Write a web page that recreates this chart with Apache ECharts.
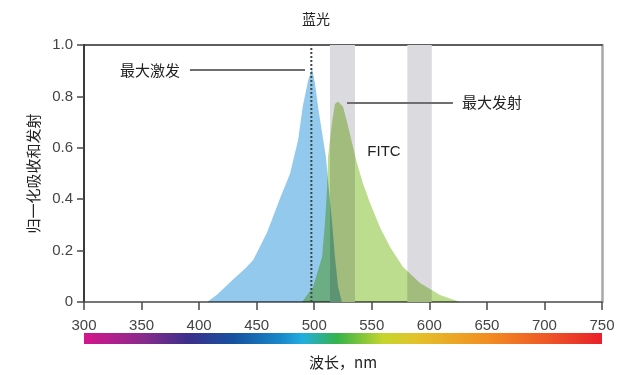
<!DOCTYPE html>
<html>
<head>
<meta charset="utf-8">
<script src="https://cdn.jsdelivr.net/npm/echarts@6/dist/echarts.min.js"></script>
<style>
html,body{margin:0;padding:0;background:#fff;}
#c{width:619px;height:375px;}
</style>
</head>
<body>
<div id="c"></div>
<script>
// Excitation (blue) spectrum: wavelength (nm) and normalized value
const exWave = [407, 416, 429, 440, 447, 459, 470, 479, 486, 490, 494.6, 498, 500.7, 503.3, 506.8, 510.3, 512, 515.5, 518, 520.7, 524];
const exVal  = [0, 0.03, 0.086, 0.13, 0.163, 0.27, 0.40, 0.50, 0.63, 0.76, 0.86, 0.91, 0.85, 0.76, 0.66, 0.56, 0.47, 0.31, 0.175, 0.06, 0];
// Emission (green) spectrum
const emWave = [489.4, 499, 506.8, 509.4, 511.1, 512, 515.5, 518, 520.7, 525, 528.5, 532.8, 537.2, 542.4, 548.5, 557.2, 565.9, 577.1, 591.9, 609.3, 626.7];
const emVal  = [0, 0.058, 0.175, 0.31, 0.436, 0.564, 0.70, 0.77, 0.78, 0.76, 0.70, 0.62, 0.54, 0.46, 0.385, 0.29, 0.214, 0.136, 0.074, 0.027, 0];
// Filter bands A and B (nm)
const bandNames = ['A', 'B'];
const bandStart = [513.7, 580.9];
const bandEnd   = [535.4, 602.1];
// Excitation max marker (dotted line)
const exMaxWave = 497.5;
// Leader lines [wavelength, value]
const exLeader = [[392, 0.903], [492, 0.903]];
const emLeader = [[528.5, 0.774], [620.5, 0.774]];
// Axis ticks
const xMin = 300, xMax = 750, xStep = 50;
const yMin = 0, yMax = 1, yStep = 0.2;
// Spectrum gradient stops (wavelength, colour)
const specWave = [300, 350, 390, 430, 470, 490, 520, 560, 590, 650, 700, 750];
const specColor = ['#d4158c', '#8a2a8c', '#3c2f8a', '#1652a0', '#1886c8', '#22aee0', '#35b34a', '#c6d52c', '#e3c12a', '#f28e22', '#ee5a26', '#e8202a'];

const chart = echarts.init(document.getElementById('c'), null, {renderer: 'canvas'});
const FONT = '"Liberation Sans", Arial, "Noto Sans CJK SC", sans-serif';
const CJK = '"Noto Sans CJK SC", "Liberation Sans", sans-serif';
const EX_COLOR = '#92c9ec', EM_COLOR = '#bcdc8e';

function areaSeries(name, xs, ys, color, z) {
  return {
    type: 'custom', name: name, coordinateSystem: 'cartesian2d', z: z, clip: true,
    data: xs.map((x, i) => [x, ys[i]]),
    renderItem: function (params, api) {
      if (params.dataIndex !== 0) return null;
      const pts = [api.coord([xs[0], 0])];
      for (let i = 0; i < xs.length; i++) pts.push(api.coord([xs[i], ys[i]]));
      pts.push(api.coord([xs[xs.length - 1], 0]));
      return {type: 'polygon', shape: {points: pts}, style: {fill: color, blend: 'multiply'}};
    },
    silent: true
  };
}

const plotL = 84, plotR = 602, plotT = 45, plotB = 302;
const gradStops = specWave.map((w, i) => ({offset: (w - xMin) / (xMax - xMin), color: specColor[i]}));

const option = {
  animation: false,
  grid: {left: plotL, right: 619 - plotR, top: plotT, bottom: 375 - plotB},
  xAxis: [{
    type: 'value', min: xMin, max: xMax, interval: xStep,
    axisLine: {lineStyle: {color: '#4a4a4a', width: 1.5}},
    axisTick: {length: 8, lineStyle: {color: '#4a4a4a', width: 1.5}},
    axisLabel: {color: '#444', fontSize: 15, fontFamily: FONT, margin: 16},
    splitLine: {show: false},
    name: '波长，nm', nameLocation: 'middle', nameGap: 53,
    nameTextStyle: {color: '#222', fontSize: 15, fontFamily: CJK}
  }, {
    type: 'value', min: xMin, max: xMax, position: 'top',
    axisLine: {show: true, onZero: false, lineStyle: {color: '#2a2a2a', width: 1.5}},
    axisTick: {show: false}, axisLabel: {show: false}, splitLine: {show: false}
  }],
  yAxis: [{
    type: 'value', min: yMin, max: yMax, interval: yStep,
    axisLine: {show: true, onZero: false, lineStyle: {color: '#3a3a3a', width: 2}},
    axisTick: {show: true, length: 7, lineStyle: {color: '#4a4a4a', width: 1.5}},
    axisLabel: {color: '#444', fontSize: 15, fontFamily: FONT, margin: 11,
      formatter: v => v === 0 ? '0' : v.toFixed(1)},
    splitLine: {show: false},
    name: '归一化吸收和发射', nameLocation: 'middle', nameGap: 38, nameRotate: 90,
    nameTextStyle: {color: '#222', fontSize: 15, fontFamily: CJK}
  }, {
    type: 'value', min: yMin, max: yMax, position: 'right',
    axisLine: {show: true, onZero: false, lineStyle: {color: '#a8a8a8', width: 2.5}},
    axisTick: {show: false}, axisLabel: {show: false}, splitLine: {show: false}
  }],
  series: [
    {
      type: 'line', data: [], z: 1, silent: true,
      markArea: {
        silent: true,
        itemStyle: {color: '#dadadf'},
        data: bandNames.map((n, i) => [{xAxis: bandStart[i], yAxis: yMin}, {xAxis: bandEnd[i], yAxis: yMax}])
      }
    },
    areaSeries('excitation', exWave, exVal, EX_COLOR, 2),
    areaSeries('emission', emWave, emVal, EM_COLOR, 3),
    {
      type: 'line', z: 5, silent: true, symbol: 'none',
      data: [[exMaxWave, yMin], [exMaxWave, yMax]],
      lineStyle: {color: '#3a4848', width: 2, type: [2, 2]}
    },
    {
      type: 'line', z: 5, silent: true, symbol: 'none',
      data: exLeader, lineStyle: {color: '#6e6e6e', width: 2}
    },
    {
      type: 'line', z: 5, silent: true, symbol: 'none',
      data: emLeader, lineStyle: {color: '#6e6e6e', width: 2}
    }
  ],
  graphic: [
    {type: 'text', x: 316, y: 19, style: {text: '蓝光', fill: '#222', font: '14px ' + CJK, textAlign: 'center', textVerticalAlign: 'middle'}},
    {type: 'text', x: 150, y: 70, style: {text: '最大激发', fill: '#222', font: '15px ' + CJK, textAlign: 'center', textVerticalAlign: 'middle'}},
    {type: 'text', x: 492, y: 102, style: {text: '最大发射', fill: '#222', font: '15px ' + CJK, textAlign: 'center', textVerticalAlign: 'middle'}},
    {type: 'text', x: 384, y: 152, style: {text: 'FITC', fill: '#222', font: '15px ' + FONT, textAlign: 'center', textVerticalAlign: 'middle'}},
    {type: 'text', x: 342, y: 65, style: {text: bandNames[0], fill: '#333', font: 'bold 13px ' + FONT, textAlign: 'center', textVerticalAlign: 'middle'}},
    {type: 'text', x: 419, y: 59, style: {text: bandNames[1], fill: '#333', font: 'bold 13px ' + FONT, textAlign: 'center', textVerticalAlign: 'middle'}},
    {type: 'rect', shape: {x: plotL, y: 333, width: plotR - plotL, height: 11},
      style: {fill: new echarts.graphic.LinearGradient(0, 0, 1, 0, gradStops)}}
  ]
};
chart.setOption(option);

// Apply multiply blending to the two spectrum areas so overlaps darken like the original
function applyBlend() {
  const zr = chart.getZr();
  const list = zr.storage.getDisplayList(true);
  list.forEach(el => {
    if (el.style && (el.style.fill === EX_COLOR || el.style.fill === EM_COLOR)) {
      el.style.blend = 'multiply';
      el.markRedraw && el.markRedraw();
    }
  });
  zr.refreshImmediately();
}
applyBlend();
</script>
</body>
</html>
